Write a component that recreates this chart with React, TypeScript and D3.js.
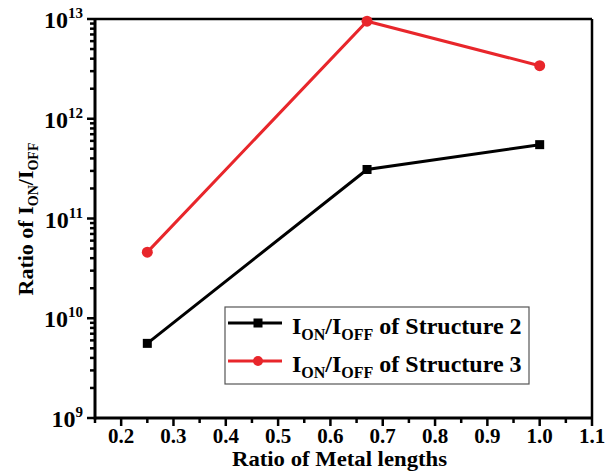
import React from "react";
import * as d3 from "d3";

const xValues = [0.25, 0.67, 1.0];
const structure2 = [5.6e9, 3.1e11, 5.5e11];
const structure3 = [4.6e10, 9.5e12, 3.4e12];
const xTicks = [0.2, 0.3, 0.4, 0.5, 0.6, 0.7, 0.8, 0.9, 1.0, 1.1];
const yTicks = [1e9, 1e10, 1e11, 1e12, 1e13];
const yExps = [9, 10, 11, 12, 13];

const W = 613, H = 471;
const L = 95, R = 592, T = 19, B = 418;
const FONT = "'Liberation Serif', 'Times New Roman', serif";

export default function App() {
  const x = d3.scaleLinear().domain([0.15, 1.1]).range([L, R]);
  const y = d3.scaleLog().domain([1e9, 1e13]).range([B, T]);
  const line = d3.line<number>().x((_, i) => x(xValues[i])).y((d) => y(d));

  const xMinor = d3.range(0.15, 1.1001, 0.05).filter((v) => Math.abs(Math.round(v * 10) - v * 10) > 0.01);
  const yMinor: number[] = [];
  for (let e = 9; e < 13; e++) for (let m = 2; m <= 9; m++) yMinor.push(m * Math.pow(10, e));

  return (
    <svg width={W} height={H} style={{ position: "absolute", left: 0, top: 0, background: "#fff" }}>
      <rect x={0} y={0} width={W} height={H} fill="#fff" />
      {/* frame */}
      <line x1={L} x2={R} y1={T} y2={T} stroke="#000" strokeWidth={2.5} />
      <line x1={R} x2={R} y1={T} y2={B} stroke="#000" strokeWidth={2.5} />
      <line x1={L} x2={R + 1} y1={B} y2={B} stroke="#000" strokeWidth={3} />
      <line x1={L} x2={L} y1={T - 1} y2={B + 1.5} stroke="#000" strokeWidth={3} />
      {/* y ticks */}
      {yTicks.map((t, i) => (
        <g key={"yt" + i}>
          <line x1={L - 8} x2={L} y1={y(t)} y2={y(t)} stroke="#000" strokeWidth={2.5} />
          <text x={L - 12} y={y(t) + 9} textAnchor="end" fontFamily={FONT} fontWeight="bold" fontSize={24} fill="#000">
            10<tspan dy={-10} fontSize={15}>{yExps[i]}</tspan>
          </text>
        </g>
      ))}
      {yMinor.map((t, i) => (
        <line key={"ym" + i} x1={L - 5} x2={L} y1={y(t)} y2={y(t)} stroke="#000" strokeWidth={2.5} />
      ))}
      {/* x ticks */}
      {xTicks.map((t, i) => (
        <g key={"xt" + i}>
          <line x1={x(t)} x2={x(t)} y1={B} y2={B + 8} stroke="#000" strokeWidth={2.5} />
          <text x={x(t)} y={443} textAnchor="middle" fontFamily={FONT} fontWeight="bold" fontSize={21} fill="#000">
            {t.toFixed(1)}
          </text>
        </g>
      ))}
      {xMinor.map((t, i) => (
        <line key={"xm" + i} x1={x(t)} x2={x(t)} y1={B} y2={B + 5} stroke="#000" strokeWidth={2.5} />
      ))}
      {/* axis titles */}
      <text x={339.5} y={466} textAnchor="middle" fontFamily={FONT} fontWeight="bold" fontSize={22} fill="#000" textLength={215} lengthAdjust="spacingAndGlyphs">
        Ratio of Metal lengths
      </text>
      <text transform={`translate(33, 219) rotate(-90)`} textAnchor="middle" fontFamily={FONT} fontWeight="bold" fontSize={22} fill="#000">
        Ratio of I<tspan dy={5} fontSize={14}>ON</tspan><tspan dy={-5}>/I</tspan><tspan dy={5} fontSize={14}>OFF</tspan>
      </text>
      {/* series */}
      <path d={line(structure3) || ""} fill="none" stroke="#e8262b" strokeWidth={3} />
      {structure3.map((v, i) => (
        <circle key={"c" + i} cx={x(xValues[i])} cy={y(v)} r={5.5} fill="#e8262b" />
      ))}
      <path d={line(structure2) || ""} fill="none" stroke="#000" strokeWidth={3} />
      {structure2.map((v, i) => (
        <rect key={"s" + i} x={x(xValues[i]) - 4.5} y={y(v) - 4.5} width={9} height={9} fill="#000" />
      ))}
      {/* legend */}
      <rect x={225} y={307} width={304} height={77} fill="#fff" stroke="#555" strokeWidth={1.2} />
      <line x1={228} x2={282} y1={323} y2={323} stroke="#000" strokeWidth={3} />
      <rect x={253.5} y={318.5} width={9} height={9} fill="#000" />
      <line x1={228} x2={282} y1={361} y2={361} stroke="#e8262b" strokeWidth={3} />
      <circle cx={258} cy={361} r={5} fill="#e8262b" />
      <text x={292} y={334} fontFamily={FONT} fontWeight="bold" fontSize={24} fill="#000">
        I<tspan dy={6} fontSize={16}>ON</tspan><tspan dy={-6}>/I</tspan><tspan dy={6} fontSize={16}>OFF</tspan><tspan dy={-6}> of Structure 2</tspan>
      </text>
      <text x={292} y={372} fontFamily={FONT} fontWeight="bold" fontSize={24} fill="#000">
        I<tspan dy={6} fontSize={16}>ON</tspan><tspan dy={-6}>/I</tspan><tspan dy={6} fontSize={16}>OFF</tspan><tspan dy={-6}> of Structure 3</tspan>
      </text>
    </svg>
  );
}
